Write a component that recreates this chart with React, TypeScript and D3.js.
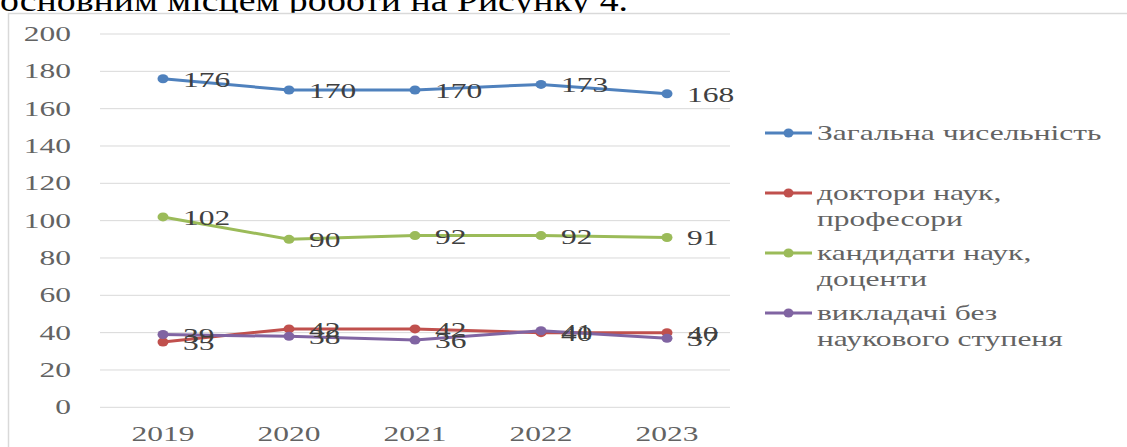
import React from "react";
import * as d3 from "d3";

const years = ["2019", "2020", "2021", "2022", "2023"];
const totalStaff = [176, 170, 170, 173, 168];
const doctors = [35, 42, 42, 40, 40];
const candidates = [102, 90, 92, 92, 91];
const noDegree = [39, 38, 36, 41, 37];
const yTicks = [0, 20, 40, 60, 80, 100, 120, 140, 160, 180, 200];

const seriesNames = [
  ["Загальна чисельність"],
  ["доктори наук,", "професори"],
  ["кандидати наук,", "доценти"],
  ["викладачі без", "наукового ступеня"],
];
const seriesColors = ["#4f81bd", "#c0504d", "#9bbb59", "#8064a2"];
const seriesValues = [totalStaff, doctors, candidates, noDegree];
const titleText = "основним місцем роботи на Рисунку 4.";

const FONT = "Liberation Serif, Tinos, Times New Roman, DejaVu Serif, serif";
const SX = 1.5;

function SText({ x, y, anchor = "start", size = 21, fill = "#636363", children }: any) {
  return (
    <text
      transform={`translate(${x},${y}) scale(${SX},1)`}
      textAnchor={anchor}
      style={{ fontFamily: FONT, fontSize: size }}
      fill={fill}
    >
      {children}
    </text>
  );
}

export default function App() {
  const x = d3.scalePoint<string>().domain(years).range([100, 730]).padding(0.5);
  const y = d3.scaleLinear().domain([0, 200]).range([407.3, 34]);
  const line = d3
    .line<number>()
    .x((_, i) => x(years[i]) as number)
    .y((d) => y(d));

  const legendY = [133, 193, 253, 313];

  return (
    <svg
      width={1127}
      height={447}
      style={{ position: "absolute", left: 0, top: 0, background: "#fff" }}
    >
      <text
        x={0}
        y={10.5}
        style={{ fontFamily: FONT, fontSize: 32 }}
        fill="#000"
        textLength={628}
        lengthAdjust="spacingAndGlyphs"
      >
        {titleText}
      </text>
      <rect x={8.5} y={13.5} width={1200} height={500} fill="#fff" stroke="#d9d9d9" strokeWidth={1.5} />
      {yTicks.map((t) => (
        <g key={t}>
          <line x1={100} x2={730} y1={y(t)} y2={y(t)} stroke="#d9d9d9" strokeWidth={1} />
          <SText x={71} y={y(t) + 7} anchor="end">{t}</SText>
        </g>
      ))}
      {years.map((yr) => (
        <SText key={yr} x={x(yr)} y={441} anchor="middle">{yr}</SText>
      ))}
      {seriesValues.map((vals, si) => (
        <g key={si}>
          <path d={line(vals) || ""} fill="none" stroke={seriesColors[si]} strokeWidth={3} />
          {vals.map((v, i) => (
            <ellipse key={i} cx={x(years[i])} cy={y(v)} rx={5.5} ry={4.5} fill={seriesColors[si]} />
          ))}
        </g>
      ))}
      {seriesValues.map((vals, si) => (
        <g key={"l" + si}>
          {vals.map((v, i) => (
            <SText key={i} x={(x(years[i]) as number) + 20} y={y(v) + 8} fill="#404040">
              {v}
            </SText>
          ))}
        </g>
      ))}
      {seriesNames.map((lines, si) => (
        <g key={"lg" + si}>
          <line x1={765} x2={812} y1={legendY[si]} y2={legendY[si]} stroke={seriesColors[si]} strokeWidth={3} />
          <ellipse cx={788.5} cy={legendY[si]} rx={5} ry={4.5} fill={seriesColors[si]} />
          {lines.map((ln, li) => (
            <SText key={li} x={817} y={legendY[si] + 7 + li * 26}>{ln}</SText>
          ))}
        </g>
      ))}
    </svg>
  );
}
